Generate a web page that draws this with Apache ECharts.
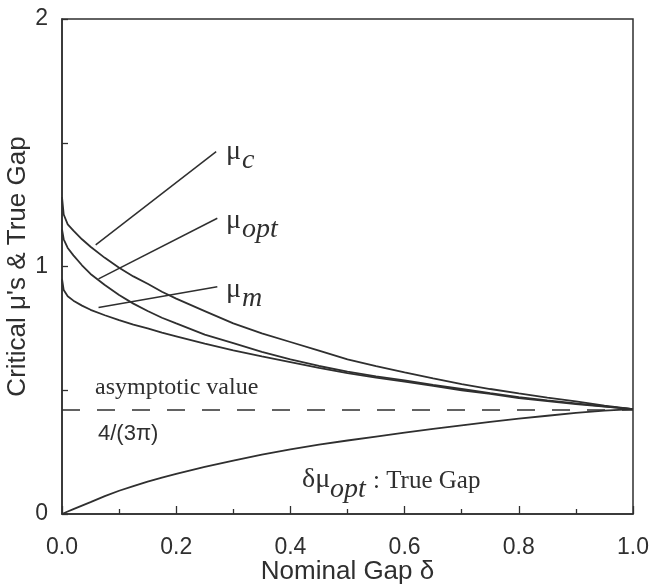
<!DOCTYPE html>
<html>
<head>
<meta charset="utf-8">
<script src="https://cdn.jsdelivr.net/npm/echarts@6/dist/echarts.min.js"></script>
<style>
  html, body { margin: 0; padding: 0; background: #fff; }
  #chart { width: 656px; height: 586px; }
</style>
</head>
<body>
<div id="chart"></div>
<script>
// nominal gap values (x)
const delta = [0, 0.003, 0.01, 0.02, 0.035, 0.05, 0.075, 0.1, 0.125, 0.15, 0.175, 0.2, 0.25, 0.3,
  0.35, 0.4, 0.45, 0.5, 0.55, 0.6, 0.65, 0.7, 0.75, 0.8, 0.85, 0.9, 0.95, 1.0];

const muC = [1.28, 1.21, 1.17, 1.145, 1.11, 1.08, 1.035, 0.995, 0.96, 0.93, 0.898, 0.87, 0.82, 0.77,
  0.73, 0.695, 0.66, 0.625, 0.597, 0.572, 0.548, 0.525, 0.505, 0.487, 0.47, 0.455, 0.438, 0.424];
const muOpt = [1.15, 1.11, 1.075, 1.045, 1.005, 0.97, 0.925, 0.885, 0.85, 0.82, 0.793, 0.77, 0.725, 0.69,
  0.655, 0.625, 0.598, 0.575, 0.556, 0.54, 0.522, 0.505, 0.488, 0.472, 0.459, 0.447, 0.435, 0.424];
const muM = [0.95, 0.905, 0.88, 0.862, 0.842, 0.825, 0.803, 0.783, 0.765, 0.75, 0.733, 0.718, 0.688, 0.661,
  0.637, 0.614, 0.59, 0.569, 0.551, 0.535, 0.518, 0.5, 0.485, 0.468, 0.456, 0.444, 0.434, 0.424];
const trueGap = [0, 0.003, 0.01, 0.02, 0.034, 0.048, 0.072, 0.094, 0.113, 0.131, 0.147, 0.162, 0.19, 0.216,
  0.24, 0.261, 0.28, 0.297, 0.313, 0.329, 0.344, 0.358, 0.372, 0.385, 0.397, 0.409, 0.418, 0.424];

const asymptote = 4 / (3 * Math.PI);

// pointer lines from label to curve: [x0, y0, x1, y1]
const pointers = [
  [0.059, 1.087, 0.27, 1.464],
  [0.064, 0.95, 0.272, 1.195],
  [0.064, 0.834, 0.272, 0.918]
];

const ink = '#2f2f2f';
const sans = 'Liberation Sans';
const serif = 'Liberation Serif';

function pairs(ys) {
  return delta.map((d, i) => [d, ys[i]]);
}

function curve(name, ys, extra) {
  return Object.assign({
    name: name,
    type: 'line',
    data: pairs(ys),
    showSymbol: false,
    lineStyle: { color: ink, width: 1.8 },
    silent: true
  }, extra || {});
}

const chart = echarts.init(document.getElementById('chart'), null, { renderer: 'canvas' });

chart.setOption({
  animation: false,
  backgroundColor: '#fff',
  grid: {
    left: 62, right: 23, top: 19, bottom: 72,
    outerBoundsMode: 'none', containLabel: false,
    show: true, borderColor: ink, borderWidth: 1.5, backgroundColor: 'transparent'
  },
  xAxis: {
    type: 'value', min: 0, max: 1, interval: 0.2,
    name: 'Nominal Gap δ', nameLocation: 'middle', nameGap: 45, nameMoveOverlap: false,
    nameTextStyle: { fontFamily: sans, fontSize: 26, color: ink },
    axisLine: { lineStyle: { color: ink, width: 1.5 } },
    axisTick: { inside: true, length: 8, lineStyle: { color: ink, width: 1.3 } },
    minorTick: { show: true, splitNumber: 2, length: 5, lineStyle: { color: ink, width: 1.3 } },
    axisLabel: { formatter: v => v.toFixed(1), margin: 22, fontFamily: sans, fontSize: 23, color: ink },
    splitLine: { show: false }
  },
  yAxis: {
    type: 'value', min: 0, max: 2, interval: 0.5,
    name: "Critical μ's & True Gap", nameLocation: 'middle', nameGap: 31, nameMoveOverlap: false,
    nameTextStyle: { fontFamily: sans, fontSize: 26, color: ink },
    axisLine: { lineStyle: { color: ink, width: 1.5 } },
    axisTick: { inside: true, length: 6, lineStyle: { color: ink, width: 1.3 } },
    axisLabel: {
      formatter: v => (v % 1 === 0 ? String(v) : ''),
      margin: 14, fontFamily: sans, fontSize: 23, color: ink
    },
    splitLine: { show: false }
  },
  series: [
    curve('μc', muC, {
      markLine: {
        silent: true, symbol: 'none', label: { show: false },
        lineStyle: { color: ink, width: 1.5, type: 'solid' },
        data: pointers.map(p => [{ coord: [p[0], p[1]] }, { coord: [p[2], p[3]] }])
      }
    }),
    curve('μopt', muOpt),
    curve('μm', muM),
    curve('δμopt', trueGap, {
      markLine: {
        silent: true, symbol: 'none', label: { show: false },
        lineStyle: { color: ink, width: 1.5, type: [18, 17] },
        data: [{ yAxis: asymptote }]
      }
    })
  ],
  graphic: [
    { type: 'text', left: 226, top: 138, style: { text: 'μ', font: '28px ' + serif, fill: ink } },
    { type: 'text', left: 242, top: 147, style: { text: 'c', font: 'italic 28px ' + serif, fill: ink } },
    { type: 'text', left: 226, top: 207, style: { text: 'μ', font: '28px ' + serif, fill: ink } },
    { type: 'text', left: 242, top: 216, style: { text: 'opt', font: 'italic 28px ' + serif, fill: ink } },
    { type: 'text', left: 226, top: 276, style: { text: 'μ', font: '28px ' + serif, fill: ink } },
    { type: 'text', left: 242, top: 285, style: { text: 'm', font: 'italic 28px ' + serif, fill: ink } },
    { type: 'text', left: 95, top: 376, style: { text: 'asymptotic value', font: '24px ' + serif, fill: ink } },
    { type: 'text', left: 98, top: 423, style: { text: '4/(3π)', font: '22px ' + sans, fill: ink } },
    { type: 'text', left: 302, top: 466, style: { text: 'δμ', font: '28px ' + serif, fill: ink } },
    { type: 'text', left: 330, top: 476, style: { text: 'opt', font: 'italic 28px ' + serif, fill: ink } },
    { type: 'text', left: 373, top: 469, style: { text: ': True Gap', font: '25px ' + serif, fill: ink } }
  ]
});
</script>
</body>
</html>
